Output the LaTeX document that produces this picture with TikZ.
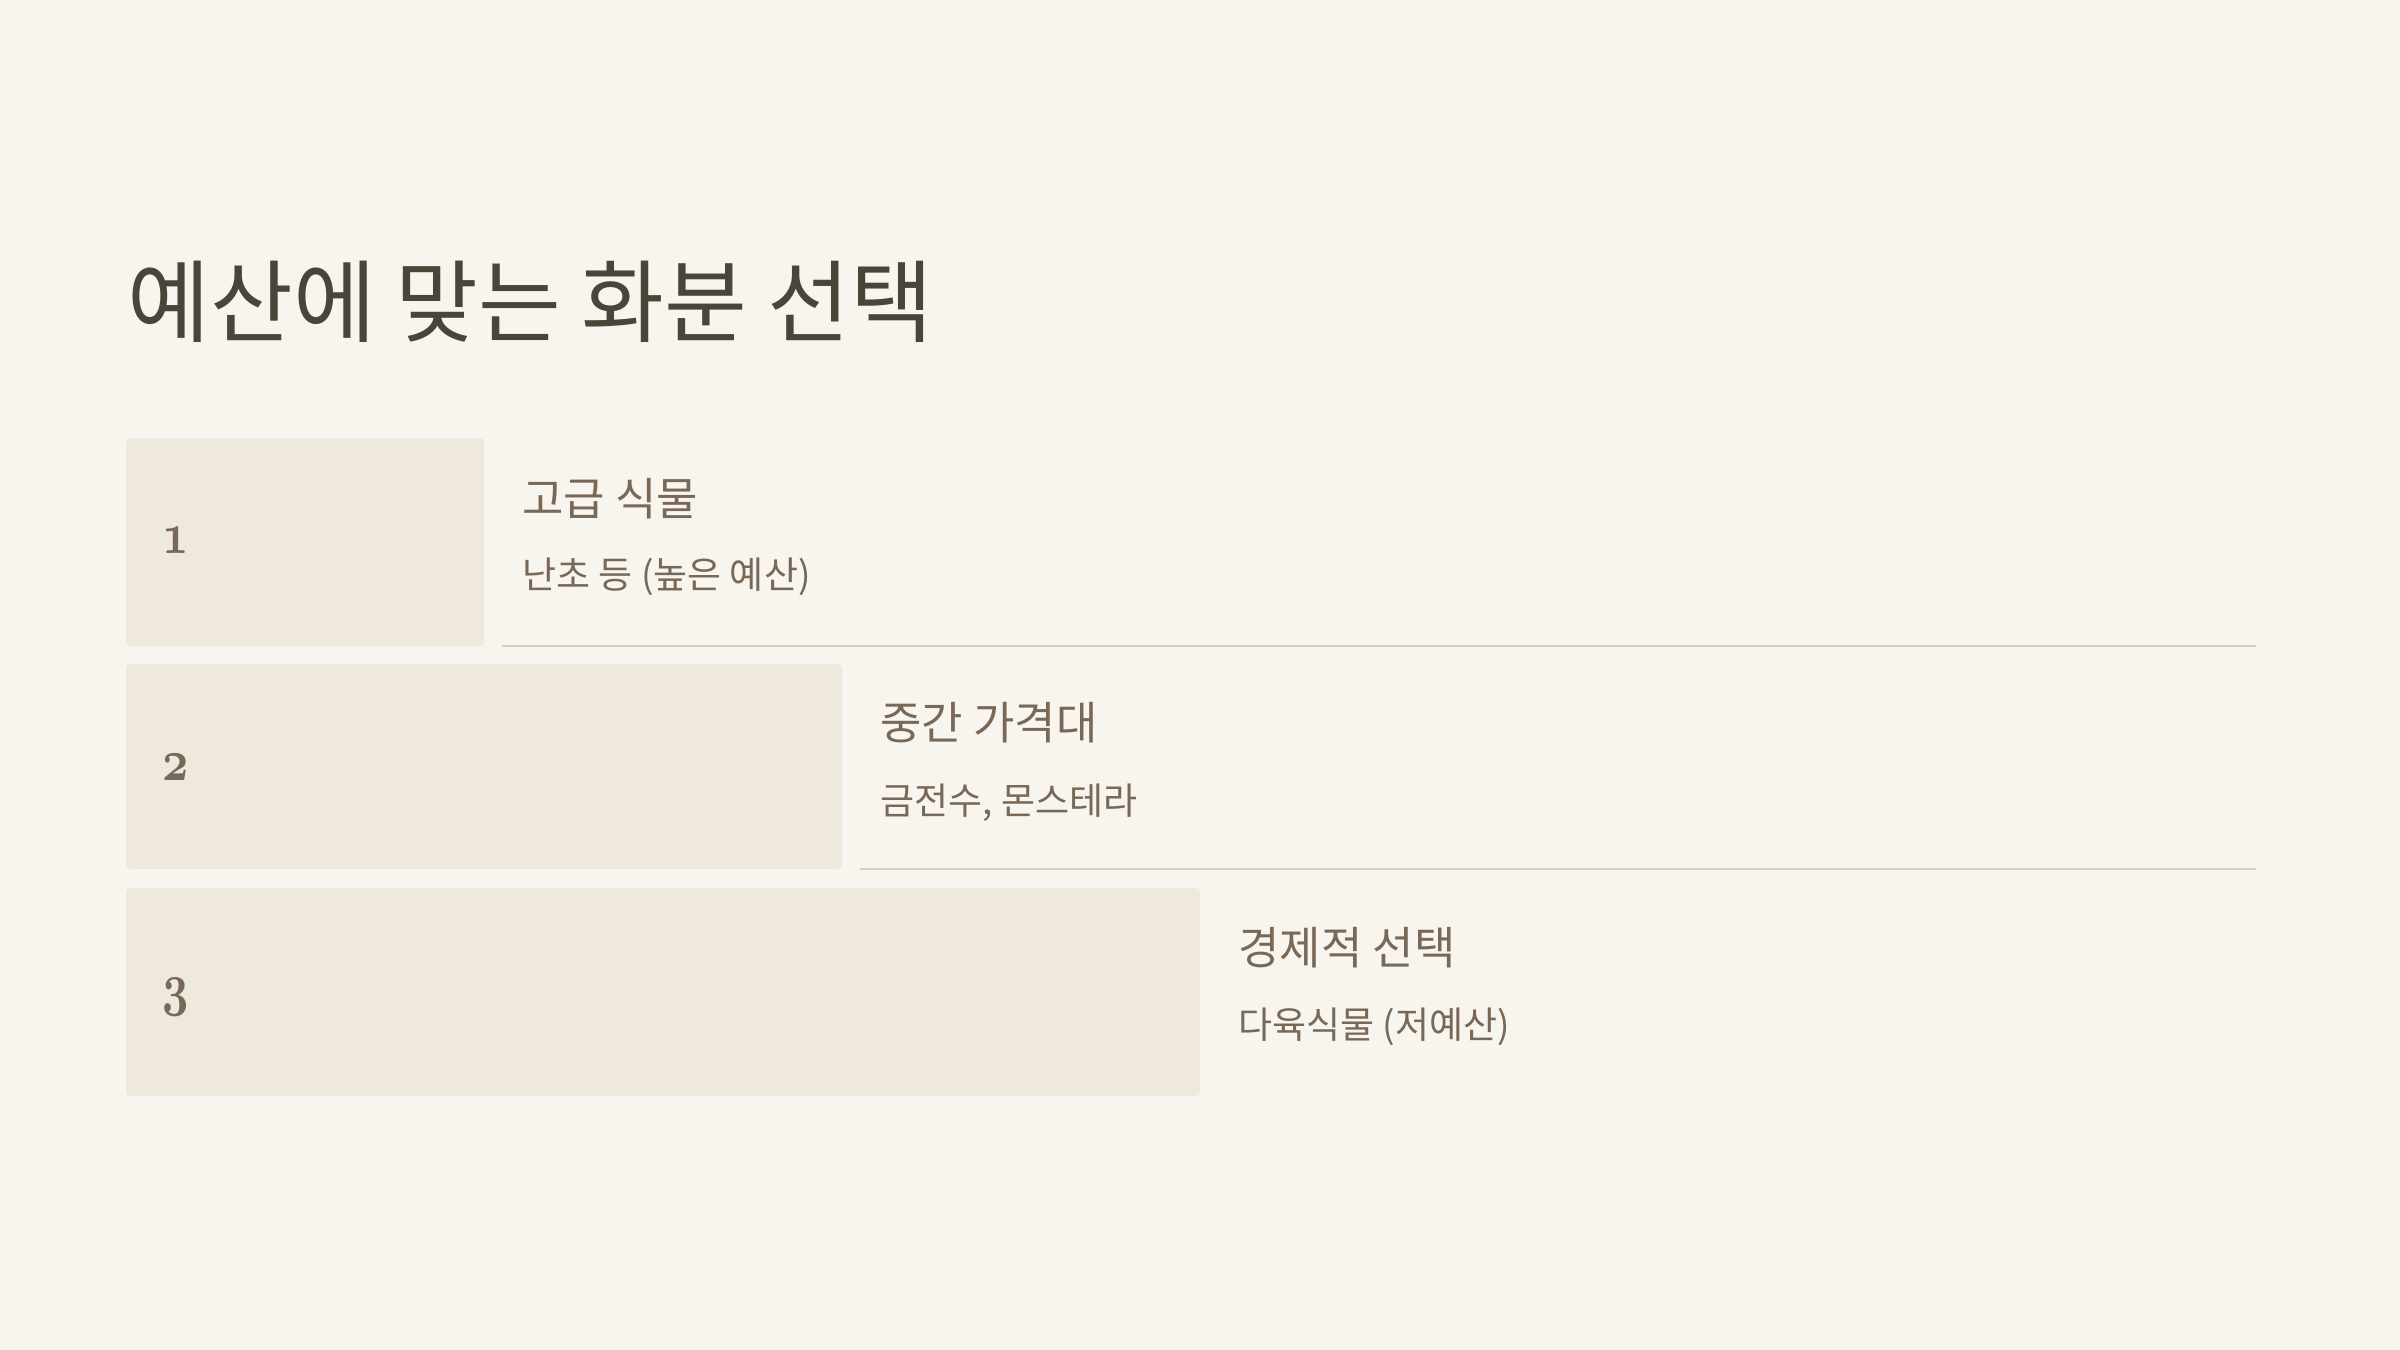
\documentclass[tikz,border=0pt]{standalone}
\usepackage{fontspec}
\setmainfont{Noto Sans CJK KR}
\definecolor{bgc}{HTML}{F8F5EE}
\definecolor{boxc}{HTML}{EFE8DD}
\definecolor{titlec}{HTML}{4A4538}
\definecolor{textc}{HTML}{776858}
\definecolor{rulec}{HTML}{D6CFC3}
\newcommand{\tiernum}[1]{\scalebox{0.92}[1.18]{\usefont{OML}{cmm}{b}{it}#1}}
\begin{document}
\begin{tikzpicture}[x=0.5pt,y=-0.5pt,
  tier/.style={fill=boxc, rounded corners=2pt},
  sep/.style={draw=rulec, line width=1pt},
  num/.style={anchor=base west, inner sep=0pt, text=textc, font=\fontsize{29}{33}\selectfont},
  head/.style={anchor=west, inner sep=0pt, text=textc, font=\fontsize{22.5}{27}\selectfont},
  sub/.style={anchor=west, inner sep=0pt, text=textc, font=\fontsize{18.5}{22}\selectfont},
  ttl/.style={anchor=west, inner sep=0pt, text=titlec, font=\fontsize{45}{54}\selectfont}]
\useasboundingbox (0,0) rectangle (2400,1350);
\fill[bgc] (0,0) rectangle (2400,1350);
\node[ttl] (title) at (127,302) {예산에 맞는 화분 선택};
% tier boxes
\fill[tier] (126,438) rectangle (484,646);
\fill[tier] (126,664) rectangle (842,869);
\fill[tier] (126,888) rectangle (1200,1096);
% separators
\coordinate (l1a) at (502,646); \coordinate (l1b) at (2256,646);
\coordinate (l2a) at (860,869); \coordinate (l2b) at (2256,869);
\draw[sep] (l1a) -- (l1b);
\draw[sep] (l2a) -- (l2b);
% numbers
\node[num] (n1) at (162,553) {\tiernum{1}};
\node[num] (n2) at (162,780) {\tiernum{2}};
\node[num] (n3) at (162,1004) {\tiernum{3}};
% texts
\node[head] (h1) at (522,499) {고급 식물};
\node[sub] (s1) at (522,577) {난초 등 (높은 예산)};
\node[head] (h2) at (880,723) {중간 가격대};
\node[sub] (s2) at (880,803) {금전수, 몬스테라};
\node[head] (h3) at (1238,948) {경제적 선택};
\node[sub] (s3) at (1238,1027) {다육식물 (저예산)};
\end{tikzpicture}
\end{document}
